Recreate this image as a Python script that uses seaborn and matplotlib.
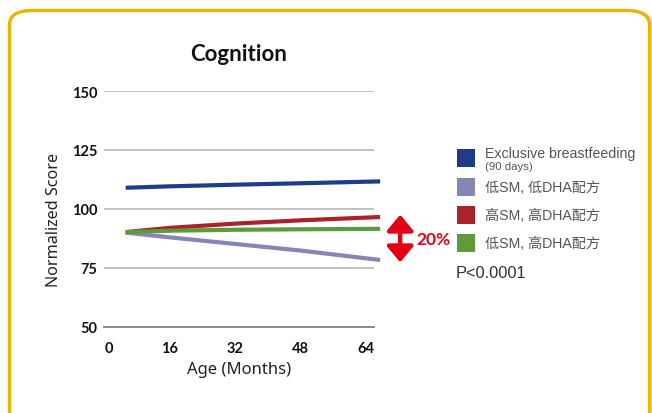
import matplotlib
matplotlib.use("Agg")
import matplotlib.pyplot as plt
import matplotlib.transforms as mtransforms
from matplotlib.patches import FancyBboxPatch, Rectangle, FancyArrowPatch
import numpy as np
import pandas as pd
import seaborn as sns

# Series data (age in months, normalized cognition score)
months = [5.3, 16, 32, 48, 67.5]
breastfed = [109.0, 109.6, 110.3, 110.9, 111.7]
low_sm_low_dha = [90.0, 88.0, 85.2, 82.4, 78.4]
high_sm_high_dha = [90.2, 92.0, 93.8, 95.2, 96.6]
low_sm_high_dha = [90.2, 90.8, 91.2, 91.4, 91.6]

series_names = ["Exclusive breastfeeding", "低SM, 低DHA配方", "高SM, 高DHA配方", "低SM, 高DHA配方"]
series_values = [breastfed, low_sm_low_dha, high_sm_high_dha, low_sm_high_dha]
series_colors = ["#1f3c88", "#8585b6", "#a8232a", "#5e9a3b"]
breastfed_note = "(90 days)"

x_ticks = [0, 16, 32, 48, 64]
y_ticks = [50, 75, 100, 125, 150]
gap_label = "20%"
p_value = "P<0.0001"

sns.set_theme(style="white")
plt.rcParams["font.family"] = ["Noto Sans CJK SC", "DejaVu Sans"]

W, H = 652, 414
fig = plt.figure(figsize=(W / 100, H / 100), dpi=100)

def fx(px):
    return px / W

def fy(py):
    return 1 - py / H

# Rounded gold card frame with a faint shadow
shadow = FancyBboxPatch((fx(11.5), fy(440)), fx(640), (440 - 13.5) / H,
                        boxstyle="round,pad=0,rounding_size=0.035",
                        transform=fig.transFigure, facecolor="none",
                        edgecolor="#dedede", linewidth=4, zorder=-3)
fig.patches.append(shadow)
frame = FancyBboxPatch((fx(9.5), fy(440)), fx(640), (440 - 11.5) / H,
                       boxstyle="round,pad=0,rounding_size=0.035",
                       transform=fig.transFigure, facecolor="white",
                       edgecolor="#e9b500", linewidth=2.4, zorder=-2)
fig.patches.append(frame)

ax = fig.add_axes([fx(104), fy(328), fx(374 - 104), (328 - 92) / H])
ax.set_facecolor("none")
ax.set_zorder(1)

df = pd.DataFrame({"month": months * len(series_names),
                   "score": np.concatenate(series_values),
                   "group": np.repeat(series_names, len(months))})
sns.lineplot(data=df, x="month", y="score", hue="group", hue_order=series_names,
             palette=series_colors, linewidth=3.0, legend=False, ax=ax,
             sort=False, zorder=3)
for ln in ax.lines:
    ln.set_solid_capstyle("butt")
    ln.set_clip_on(False)

ax.set_xlim(0, 66)
ax.set_ylim(50, 150)
ax.set_yticks(y_ticks)
ax.set_xticks(x_ticks)
ax.grid(axis="y", color="#b0b0b0", linewidth=1.1)
ax.grid(axis="x", visible=False)
for s in ["top", "right", "left"]:
    ax.spines[s].set_visible(False)
ax.spines["bottom"].set_color("#8c8c8c")
ax.spines["bottom"].set_linewidth(1.4)
ax.tick_params(axis="y", length=0, pad=5)
ax.tick_params(axis="x", length=0, pad=10)
for lab in ax.get_yticklabels() + ax.get_xticklabels():
    lab.set_fontfamily("Lato")
    lab.set_fontweight("bold")
    lab.set_fontsize(10.5)
    lab.set_color("#111111")
zero_lab = ax.get_xticklabels()[0]
zero_lab.set_transform(zero_lab.get_transform() +
                       mtransforms.ScaledTranslation(5 / 100, 0, fig.dpi_scale_trans))

ax.set_title("Cognition", fontfamily="Lato", fontweight="bold", fontsize=16,
             color="#111111", pad=22)
ax.set_xlabel("Age (Months)", fontfamily="Noto Sans", fontsize=12, color="#222222")
ax.xaxis.set_label_coords(0.5, -0.145)
ax.set_ylabel("Normalized Score", fontfamily="Noto Sans", fontsize=11.6,
              color="#222222")
ax.yaxis.set_label_coords(-0.155, 0.46)

# Double arrow spanning the gap between the lowest and highest formula groups
arrow = FancyArrowPatch((72.4, low_sm_low_dha[-1] - 1.0), (72.4, high_sm_high_dha[-1] + 1.0),
                        transform=ax.transData, arrowstyle="<|-|>,head_length=6,head_width=5",
                        mutation_scale=1.6, color="#e30016", linewidth=3.2,
                        clip_on=False, shrinkA=0, shrinkB=0)
ax.add_artist(arrow)
fig.text(fx(416), fy(240), gap_label, color="#e30016", fontfamily="Lato",
         fontweight="bold", fontsize=12.5, va="center", ha="left")

# Legend: colour squares with labels
row_y = [159, 188, 216, 244]
for name, color, y in zip(series_names, series_colors, row_y):
    fig.patches.append(Rectangle((fx(457), fy(y + 9)), fx(18), 18 / H,
                                 transform=fig.transFigure, facecolor=color,
                                 edgecolor="none", zorder=3))
    ty = y - 5 if name == series_names[0] else y
    fig.text(fx(485), fy(ty), name, fontsize=10.2, color="#555555",
             va="center", ha="left",
             family=["Liberation Sans", "Noto Sans CJK SC"])
fig.text(fx(485), fy(167), breastfed_note, fontsize=8.2, color="#555555",
         va="center", ha="left", family=["Liberation Sans"])
fig.text(fx(456), fy(274), p_value, fontsize=11.8, color="#333333",
         va="center", ha="left", family=["Liberation Sans"])

fig.savefig("out.png", dpi=100)
